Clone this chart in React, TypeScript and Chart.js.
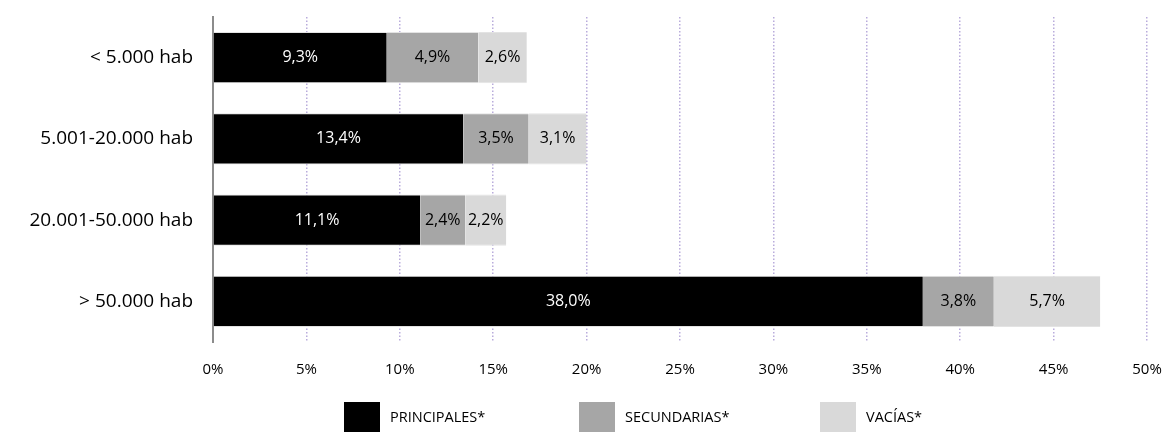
import React, { useEffect, useRef } from "react";
import { Chart, registerables } from "chart.js";

Chart.register(...registerables);

const categories = ["< 5.000 hab", "5.001-20.000 hab", "20.001-50.000 hab", "> 50.000 hab"];
const seriesNames = ["PRINCIPALES*", "SECUNDARIAS*", "VACÍAS*"];
const principales = [9.3, 13.4, 11.1, 38.0];
const secundarias = [4.9, 3.5, 2.4, 3.8];
const vacias = [2.6, 3.1, 2.2, 5.7];
const seriesColors = ["#000000", "#a6a6a6", "#d9d9d9"];
const labelColors = ["#ffffff", "#000000", "#000000"];
const xMin = 0;
const xMax = 50;
const xStep = 5;

const FONT = "'Open Sans', 'Noto Sans', sans-serif";

const fmt = (v: number) => v.toFixed(1).replace(".", ",") + "%";

const dataLabelPlugin = {
  id: "segLabels",
  afterDatasetsDraw(chart: any) {
    const ctx = chart.ctx;
    ctx.save();
    ctx.font = `16px ${FONT}`;
    ctx.textAlign = "center";
    ctx.textBaseline = "middle";
    chart.data.datasets.forEach((ds: any, di: number) => {
      const meta = chart.getDatasetMeta(di);
      meta.data.forEach((el: any, i: number) => {
        const v = ds.data[i];
        const cx = (el.x + el.base) / 2;
        ctx.fillStyle = labelColors[di];
        ctx.fillText(fmt(v), cx, el.y);
      });
    });
    ctx.restore();
  },
};

const legendPlugin = {
  id: "customLegend",
  afterDraw(chart: any) {
    const ctx = chart.ctx;
    const starts = [344, 579, 820];
    ctx.save();
    ctx.font = `14.5px ${FONT}`;
    ctx.textBaseline = "middle";
    ctx.textAlign = "left";
    chart.data.datasets.forEach((ds: any, i: number) => {
      const x = starts[i];
      ctx.fillStyle = ds.backgroundColor;
      ctx.fillRect(x, 402, 36, 32);
      ctx.fillStyle = "#000000";
      ctx.fillText(ds.label, x + 46, 418);
    });
    ctx.restore();
  },
};

export default function App() {
  const ref = useRef<HTMLCanvasElement | null>(null);

  useEffect(() => {
    document.body.style.margin = "0";
    const canvas = ref.current;
    if (!canvas) return;
    const seriesData = [principales, secundarias, vacias];
    const chart = new Chart(canvas, {
      type: "bar",
      data: {
        labels: categories,
        datasets: seriesData.map((d, i) => ({
          label: seriesNames[i],
          data: d,
          backgroundColor: seriesColors[i],
          borderColor: "#e3e3e3",
          borderWidth: { top: 1, bottom: 1, left: 0, right: 0 },
          borderSkipped: false,
          barPercentage: 0.63,
          categoryPercentage: 1,
        })),
      },
      options: {
        indexAxis: "y",
        animation: false,
        responsive: false,
        maintainAspectRatio: false,
        layout: { padding: { top: 17, right: 20, left: 0, bottom: 0 } },
        plugins: {
          legend: { display: false },
          tooltip: { enabled: false },
        },
        scales: {
          x: {
            stacked: true,
            min: xMin,
            max: xMax,
            ticks: {
              stepSize: xStep,
              callback: (v: any) => v + "%",
              color: "#000000",
              font: { family: FONT, size: 15 },
              padding: 19,
              maxRotation: 0,
            },
            grid: {
              color: (c: any) => (c.tick && c.tick.value === 0 ? "rgba(0,0,0,0)" : "#b9acdc"),
              lineWidth: 1.5,
              drawTicks: false,
            },
            border: { display: false, dash: [1.5, 2] },
            afterFit: (s: any) => {
              s.height = 90;
              s.paddingLeft = 0;
              s.paddingRight = 0;
            },
          },
          y: {
            stacked: true,
            ticks: {
              color: "#000000",
              font: { family: FONT, size: 19 },
              padding: 20,
            },
            grid: { display: false, drawTicks: false },
            border: { display: true, color: "#8c8c8c", width: 2 },
            afterFit: (s: any) => {
              s.width = 213;
              s.paddingTop = 0;
              s.paddingBottom = 0;
            },
          },
        },
      },
      plugins: [dataLabelPlugin, legendPlugin],
    } as any);
    return () => chart.destroy();
  }, []);

  return (
    <div style={{ width: 1167, height: 432 }}>
      <canvas ref={ref} width={1167} height={432} style={{ display: "block" }} />
    </div>
  );
}
